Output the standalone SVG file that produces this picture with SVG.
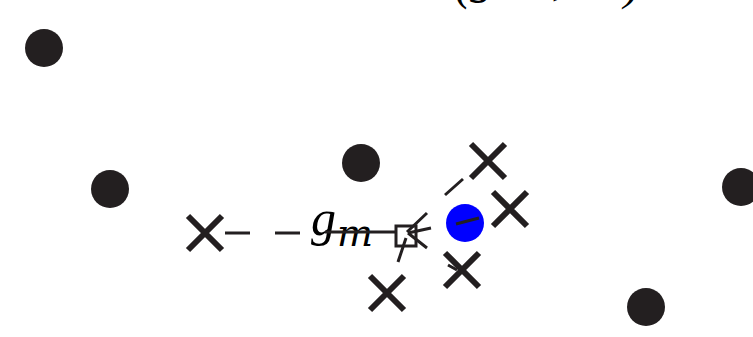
<svg xmlns="http://www.w3.org/2000/svg" width="753" height="337" viewBox="0 0 753 337">
<style>
.dot{fill:#231f20}
.blue{fill:#0000ff}
.x{stroke:#231f20;stroke-width:6;fill:none}
.c{stroke:#231f20;stroke-width:3;fill:none}
.math{font-family:"Liberation Serif",serif;font-style:italic;fill:#000}
.sub{font-family:"DejaVu Serif",serif;font-style:italic;fill:#000}
</style>
<defs>
<path id="cross" d="M-17,-17L17,17M-17,17L17,-17" class="x"/>
</defs>
<rect width="753" height="337" fill="#fff"/>
<g id="title"><text class="math" font-size="48"><tspan x="455" y="-1">(</tspan><tspan x="470" y="-7">g</tspan><tspan x="552" y="-6">,</tspan><tspan x="624" y="-1">)</tspan></text></g>
<g id="p1"><circle class="dot" cx="44" cy="48" r="19"/></g>
<g id="p2"><circle class="dot" cx="110" cy="189" r="19"/></g>
<g id="p3"><circle class="dot" cx="361" cy="163" r="19"/></g>
<g id="p4"><circle class="dot" cx="741" cy="187" r="19"/></g>
<g id="p5"><circle class="dot" cx="646" cy="307" r="19"/></g>
<g id="center"><circle class="blue" cx="465" cy="223" r="19"/></g>
<g id="x1"><use href="#cross" x="205" y="233"/></g>
<g id="x2"><use href="#cross" x="488" y="161"/></g>
<g id="x3"><use href="#cross" x="510" y="209"/></g>
<g id="x4"><use href="#cross" x="462" y="270"/></g>
<g id="x5"><use href="#cross" x="387" y="293"/></g>
<g id="label"><text class="math" x="311" y="235" font-size="50">g</text><text class="sub" x="337" y="246" font-size="38">m</text></g>
<g id="connectors">
<path class="c" d="M225,233H250M275,233H300M325,232H397"/>
<path class="c" d="M407,232L427,213M445,195L463,179"/>
<path class="c" d="M408,233L431,228M456,224L479,218"/>
<path class="c" d="M408,233L427,248M448,265L457,270"/>
<path class="c" d="M406,238L398,262"/>
</g>
<g id="box"><rect x="396" y="226" width="20" height="20" fill="none" stroke="#231f20" stroke-width="3"/></g>
</svg>
